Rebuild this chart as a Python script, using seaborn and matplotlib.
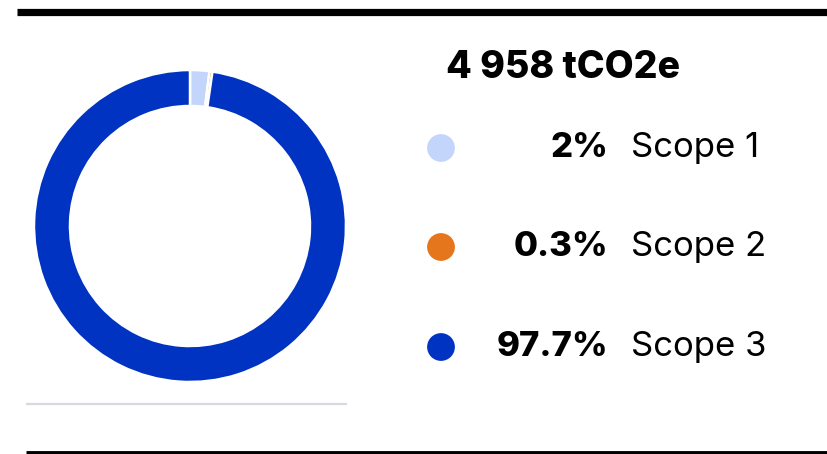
import matplotlib
matplotlib.use("Agg")
import matplotlib.pyplot as plt
import seaborn as sns
import pandas as pd

# data
scopes = ["Scope 1", "Scope 2", "Scope 3"]
shares = [2.0, 0.3, 97.7]
share_labels = ["2%", "0.3%", "97.7%"]
total_label = "4 958 tCO2e"
colors = ["#c3d5fa", "#e5761b", "#0033c1"]

sns.set_theme(style="white")
plt.rcParams["font.family"] = ["Inter", "DejaVu Sans"]

W, H = 827, 454
fig = plt.figure(figsize=(W / 100, H / 100), dpi=100)

# overlay axes in pixel coordinates for legend, text and rules
ax2 = fig.add_axes([0, 0, 1, 1])
ax2.set_xlim(0, W)
ax2.set_ylim(H, 0)
ax2.axis("off")

# donut
cx, cy, r = 190, 226, 156
ax = fig.add_axes([(cx - r) / W, (H - cy - r) / H, 2 * r / W, 2 * r / H])
ax.pie(shares, colors=colors, startangle=90, counterclock=False, radius=1,
       wedgeprops=dict(width=36 / r, edgecolor="white", linewidth=1.8))
ax.set_xlim(-1, 1)
ax.set_ylim(-1, 1)
ax.set_aspect("equal")
ax.axis("off")

# rules
ax2.plot([17, W], [11.5, 11.5], color="black", lw=5.2, solid_capstyle="butt")
ax2.plot([26, W], [452.5, 452.5], color="black", lw=3.5, solid_capstyle="butt")
ax2.plot([26, 347], [404, 404], color="#d9d7df", lw=1.6, solid_capstyle="butt")

# legend
legend_df = pd.DataFrame({"scope": scopes, "x": [441] * 3, "y": [148, 247, 347]})
sns.scatterplot(data=legend_df, x="x", y="y", hue="scope", palette=colors,
                s=400, linewidth=0, legend=False, ax=ax2)
ax2.set_xlabel("")
ax2.set_ylabel("")

ax2.text(446, 68, total_label, fontsize=27, fontweight="heavy",
         ha="left", va="center", color="black")
for lab, sc, y in zip(share_labels, scopes, legend_df["y"]):
    ax2.text(608, y, lab, fontsize=25, fontweight="heavy",
             ha="right", va="center", color="black")
    ax2.text(631, y, sc, fontsize=25, fontweight="normal",
             ha="left", va="center", color="black")

fig.savefig("out.png", dpi=100)
